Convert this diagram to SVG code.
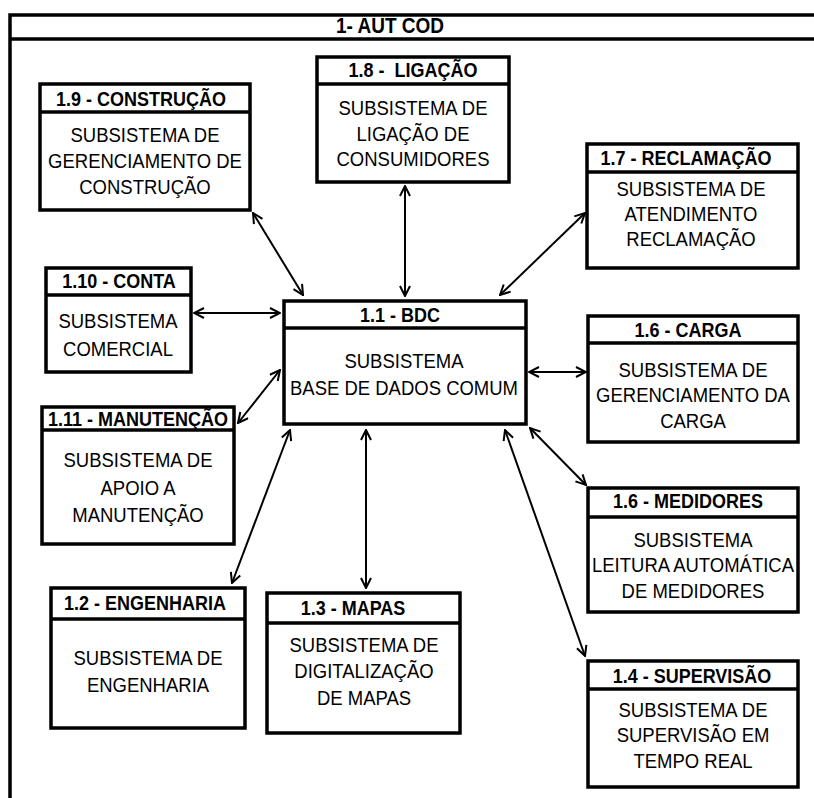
<svg xmlns="http://www.w3.org/2000/svg" width="814" height="798" viewBox="0 0 814 798">
<style>
.box{fill:#fff;stroke:#000;stroke-width:3.5}
.sep{stroke:#000;stroke-width:3.5}
.hd{font-family:"Liberation Sans",Arial,sans-serif;font-weight:bold;font-size:18px;text-anchor:middle;fill:#000;white-space:pre}
.bd{font-family:"Liberation Sans",Arial,sans-serif;font-size:18.5px;text-anchor:middle;fill:#000}
.cn{stroke:#000;stroke-width:2;fill:none;marker-start:url(#ah);marker-end:url(#ah)}
</style>
<defs>
<marker id="ah" viewBox="0 0 12 12" refX="11" refY="6" markerWidth="12" markerHeight="12" markerUnits="userSpaceOnUse" orient="auto-start-reverse">
<polyline points="1,1 11,6 1,11" fill="none" stroke="#000" stroke-width="2"/>
</marker>
</defs>
<rect width="814" height="798" fill="#fff"/>
<g id="frame">
<rect x="10" y="15" width="830" height="800" fill="none" stroke="#000" stroke-width="3.5"/>
<line x1="10" y1="39" x2="814" y2="39" class="sep"/>
<text class="hd" transform="translate(390,33) scale(1,1.12)" style="font-size:19px">1- AUT COD</text>
</g>
<g id="connectors">
<line class="cn" x1="405" y1="186" x2="405" y2="296"/>
<line class="cn" x1="253" y1="213" x2="303" y2="295"/>
<line class="cn" x1="500" y1="295" x2="585" y2="213"/>
<line class="cn" x1="194" y1="313" x2="280" y2="313"/>
<line class="cn" x1="529" y1="372" x2="586" y2="372"/>
<line class="cn" x1="238" y1="423" x2="280" y2="370"/>
<line class="cn" x1="530" y1="428" x2="586" y2="485"/>
<line class="cn" x1="290" y1="430" x2="232" y2="583"/>
<line class="cn" x1="366" y1="430" x2="366" y2="588"/>
<line class="cn" x1="505" y1="430" x2="585" y2="656"/>
</g>
<g id="n19">
<rect class="box" x="40" y="84" width="210" height="126"/>
<line class="sep" x1="40" y1="112" x2="250" y2="112"/>
<text class="hd" transform="translate(141,106) scale(1,1.12)">1.9 - CONSTRUÇÃO</text>
<text class="bd" transform="translate(145,142) scale(1,1.12)">SUBSISTEMA DE</text>
<text class="bd" transform="translate(145,168) scale(1,1.12)">GERENCIAMENTO DE</text>
<text class="bd" transform="translate(145,194) scale(1,1.12)">CONSTRUÇÃO</text>
</g>
<g id="n18">
<rect class="box" x="317" y="57" width="192" height="125"/>
<line class="sep" x1="317" y1="84" x2="509" y2="84"/>
<text class="hd" transform="translate(413,77) scale(1,1.12)">1.8 -  LIGAÇÃO</text>
<text class="bd" transform="translate(413,115) scale(1,1.12)">SUBSISTEMA DE</text>
<text class="bd" transform="translate(413,141) scale(1,1.12)">LIGAÇÃO DE</text>
<text class="bd" transform="translate(413,166) scale(1,1.12)">CONSUMIDORES</text>
</g>
<g id="n17">
<rect class="box" x="587" y="144" width="211" height="124"/>
<line class="sep" x1="587" y1="172" x2="798" y2="172"/>
<text class="hd" transform="translate(686,165) scale(1,1.12)">1.7 - RECLAMAÇÃO</text>
<text class="bd" transform="translate(691,196) scale(1,1.12)">SUBSISTEMA DE</text>
<text class="bd" transform="translate(691,221) scale(1,1.12)">ATENDIMENTO</text>
<text class="bd" transform="translate(691,246) scale(1,1.12)">RECLAMAÇÃO</text>
</g>
<g id="n110">
<rect class="box" x="46" y="268" width="145" height="104"/>
<line class="sep" x1="46" y1="295" x2="191" y2="295"/>
<text class="hd" transform="translate(119,288) scale(1,1.12)">1.10 - CONTA</text>
<text class="bd" transform="translate(118,328) scale(1,1.12)">SUBSISTEMA</text>
<text class="bd" transform="translate(118,356) scale(1,1.12)">COMERCIAL</text>
</g>
<g id="n11">
<rect class="box" x="284" y="301" width="242" height="123"/>
<line class="sep" x1="284" y1="328" x2="526" y2="328"/>
<text class="hd" transform="translate(400,322) scale(1,1.12)">1.1 - BDC</text>
<text class="bd" transform="translate(404,368) scale(1,1.12)">SUBSISTEMA</text>
<text class="bd" transform="translate(404,395) scale(1,1.12)">BASE DE DADOS COMUM</text>
</g>
<g id="n16c">
<rect class="box" x="588" y="316" width="210" height="126"/>
<line class="sep" x1="588" y1="343" x2="798" y2="343"/>
<text class="hd" transform="translate(688,337) scale(1,1.12)">1.6 - CARGA</text>
<text class="bd" transform="translate(693,377) scale(1,1.12)">SUBSISTEMA DE</text>
<text class="bd" transform="translate(693,402) scale(1,1.12)">GERENCIAMENTO DA</text>
<text class="bd" transform="translate(693,428) scale(1,1.12)">CARGA</text>
</g>
<g id="n111">
<rect class="box" x="42" y="407" width="192" height="137"/>
<line class="sep" x1="42" y1="430" x2="234" y2="430"/>
<text class="hd" transform="translate(138,426) scale(1,1.12)">1.11 - MANUTENÇÃO</text>
<text class="bd" transform="translate(138,467) scale(1,1.12)">SUBSISTEMA DE</text>
<text class="bd" transform="translate(138,495) scale(1,1.12)">APOIO A</text>
<text class="bd" transform="translate(138,522) scale(1,1.12)">MANUTENÇÃO</text>
</g>
<g id="n16m">
<rect class="box" x="588" y="488" width="210" height="124"/>
<line class="sep" x1="588" y1="517" x2="798" y2="517"/>
<text class="hd" transform="translate(688,508) scale(1,1.12)">1.6 - MEDIDORES</text>
<text class="bd" transform="translate(693,547) scale(1,1.12)">SUBSISTEMA</text>
<text class="bd" transform="translate(693,572) scale(1,1.12)">LEITURA AUTOMÁTICA</text>
<text class="bd" transform="translate(693,598) scale(1,1.12)">DE MEDIDORES</text>
</g>
<g id="n12">
<rect class="box" x="51" y="588" width="194" height="140"/>
<line class="sep" x1="51" y1="619" x2="245" y2="619"/>
<text class="hd" transform="translate(145,610) scale(1,1.12)">1.2 - ENGENHARIA</text>
<text class="bd" transform="translate(148,665) scale(1,1.12)">SUBSISTEMA DE</text>
<text class="bd" transform="translate(148,692) scale(1,1.12)">ENGENHARIA</text>
</g>
<g id="n13">
<rect class="box" x="267" y="593" width="193" height="140"/>
<line class="sep" x1="267" y1="623" x2="460" y2="623"/>
<text class="hd" transform="translate(353,615) scale(1,1.12)">1.3 - MAPAS</text>
<text class="bd" transform="translate(364,652) scale(1,1.12)">SUBSISTEMA DE</text>
<text class="bd" transform="translate(364,678) scale(1,1.12)">DIGITALIZAÇÃO</text>
<text class="bd" transform="translate(364,705) scale(1,1.12)">DE MAPAS</text>
</g>
<g id="n14">
<rect class="box" x="588" y="661" width="210" height="126"/>
<line class="sep" x1="588" y1="689" x2="798" y2="689"/>
<text class="hd" transform="translate(692,683) scale(1,1.12)">1.4 - SUPERVISÃO</text>
<text class="bd" transform="translate(693,717) scale(1,1.12)">SUBSISTEMA DE</text>
<text class="bd" transform="translate(693,742) scale(1,1.12)">SUPERVISÃO EM</text>
<text class="bd" transform="translate(693,768) scale(1,1.12)">TEMPO REAL</text>
</g>
</svg>
